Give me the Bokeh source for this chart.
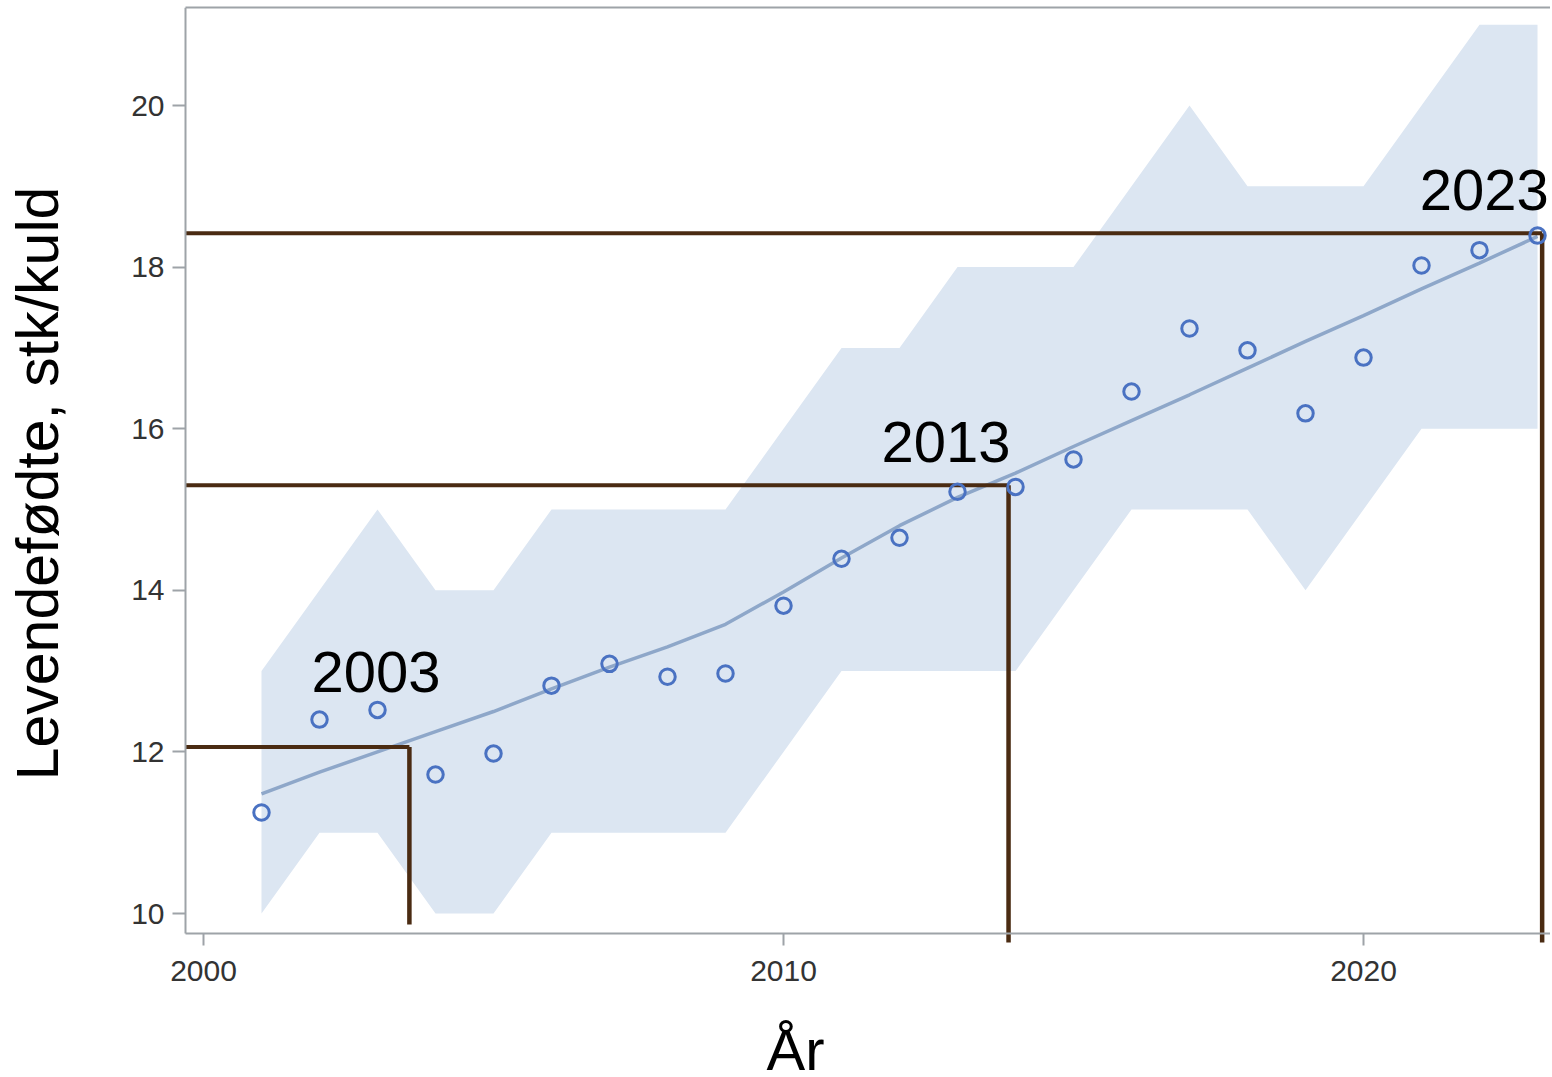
import math
from bokeh.plotting import figure
from bokeh.models import Range1d, LinearAxis, FixedTicker, ColumnDataSource
from bokeh.core.properties import value
from bokeh.embed import file_html
from bokeh.resources import INLINE

# ---- data ----
years = list(range(2001, 2024))
liveborn = [11.25, 12.40, 12.52, 11.72, 11.98, 12.82, 13.09, 12.93, 12.97, 13.81,
            14.39, 14.65, 15.22, 15.28, 15.62, 16.46, 17.24, 16.97, 16.19, 16.88,
            18.02, 18.21, 18.39]
trend = [11.48, 11.75, 12.00, 12.25, 12.50, 12.78, 13.05, 13.30, 13.58, 13.98,
         14.40, 14.80, 15.15, 15.45, 15.78, 16.10, 16.42, 16.75, 17.08, 17.40,
         17.73, 18.05, 18.38]
band_upper = [13, 14, 15, 14, 14, 15, 15, 15, 15, 16, 17, 17, 18, 18, 18, 19, 20,
              19, 19, 19, 20, 21, 21]
band_lower = [10, 11, 11, 10, 10, 11, 11, 11, 11, 12, 13, 13, 13, 13, 14, 15, 15,
              15, 14, 15, 16, 16, 16]

ref_labels = ["2003", "2013", "2023"]
ref_x = [2003.55, 2013.88, 2023.08]
ref_value = [12.06, 15.30, 18.42]
ref_bottom = [9.865, 9.641, 9.641]
label_x = [2001.86, 2011.69, 2020.97]
label_y = [12.985, 15.83, 18.96]

x_ticks = [2000, 2010, 2020]
y_ticks = [10, 12, 14, 16, 18, 20]

X_START, X_END = 1996.500, 2023.224
Y_START, Y_END = 7.983, 21.213
X_AXIS = 1999.690         # where the y axis is drawn
Y_AXIS = 9.752            # where the x axis is drawn
XLABEL_X, XLABEL_Y = 2010.207, 8.32
YLABEL_X, YLABEL_Y = 1997.155, 15.322

FONT = "Liberation Sans"
AXIS_COLOR = "#9ea3a8"
BROWN = "#4a2b12"

p = figure(width=1550, height=1076,
           x_range=Range1d(X_START, X_END), y_range=Range1d(Y_START, Y_END),
           output_backend="svg", toolbar_location=None,
           min_border_left=0, min_border_right=0, min_border_top=7,
           min_border_bottom=0)
p.outline_line_color = None
p.grid.visible = False
p.background_fill_color = "white"

# band, trend
p.varea(x=years, y1=band_lower, y2=band_upper, fill_color="#dce6f2")
p.line(years, trend, line_color="#8ea7c9", line_width=3.5)

# reference lines
src = ColumnDataSource(dict(x=ref_x, y=ref_value, yb=ref_bottom,
                            x0=[X_AXIS] * len(ref_x)))
p.segment(x0="x0", y0="y", x1="x", y1="y", source=src, line_color=BROWN, line_width=4)
p.segment(x0="x", y0="y", x1="x", y1="yb", source=src, line_color=BROWN, line_width=4.5)

# points
p.scatter(years, liveborn, marker="circle", size=15.5, fill_color=None,
          line_color="#4a72c2", line_width=3)

p.text(x=label_x, y=label_y, text=ref_labels, text_font=value(FONT),
       text_font_size="58px", text_color="black", text_baseline="alphabetic",
       text_align="left")

# axis titles
p.text(x=[XLABEL_X], y=[XLABEL_Y], text=["År"], text_font=value(FONT),
       text_font_size="58px", text_color="black", text_baseline="alphabetic",
       text_align="center")
p.text(x=[YLABEL_X], y=[YLABEL_Y], text=["Levendefødte, stk/kuld"],
       angle=math.pi / 2, text_font=value(FONT),
       text_font_size="59px", text_color="black", text_baseline="alphabetic",
       text_align="center")

# axes
for ax in (p.xaxis[0], p.yaxis[0]):
    ax.axis_line_color = AXIS_COLOR
    ax.axis_line_width = 2
    ax.major_tick_line_color = AXIS_COLOR
    ax.major_tick_line_width = 2
    ax.major_tick_in = 0
    ax.minor_tick_line_color = None
    ax.major_label_text_font = FONT
    ax.major_label_text_font_size = "30px"
    ax.major_label_text_color = "#333333"

p.xaxis[0].ticker = FixedTicker(ticks=x_ticks)
p.xaxis[0].major_tick_out = 12
p.xaxis[0].major_label_standoff = 15
p.xaxis[0].fixed_location = Y_AXIS
p.xaxis[0].bounds = (X_AXIS, X_END)

p.yaxis[0].ticker = FixedTicker(ticks=y_ticks)
p.yaxis[0].major_tick_out = 13
p.yaxis[0].major_label_standoff = 8
p.yaxis[0].fixed_location = X_AXIS
p.yaxis[0].bounds = (Y_AXIS, Y_END)

top_axis = LinearAxis(ticker=FixedTicker(ticks=[]), axis_line_color=AXIS_COLOR,
                      axis_line_width=2, major_tick_line_color=None,
                      minor_tick_line_color=None, major_label_text_font_size="0px",
                      bounds=(X_AXIS, X_END))
p.add_layout(top_axis, "above")

open("out.html", "w").write(file_html(p, INLINE))
